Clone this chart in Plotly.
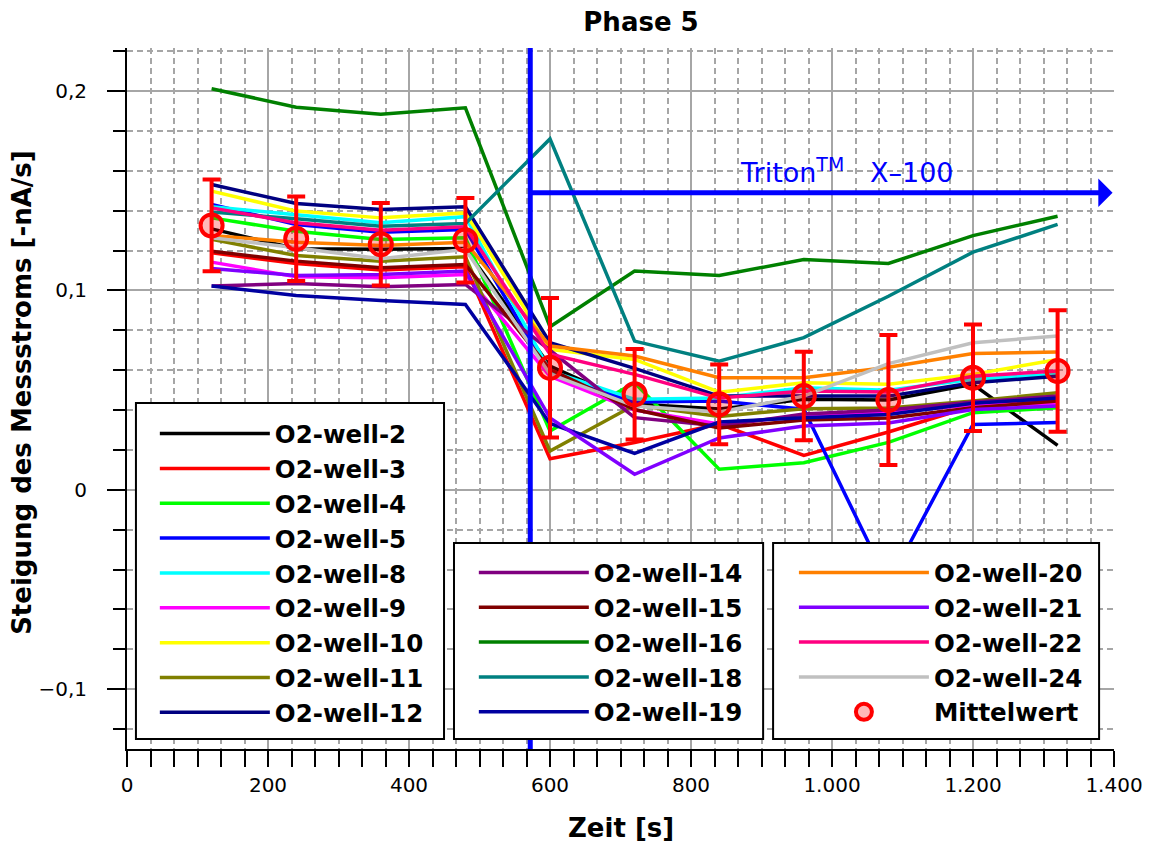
import plotly.graph_objects as go

# Zeitpunkte der Messung [s]
zeit = [120, 240, 360, 480, 600, 720, 840, 960, 1080, 1200, 1320]

# Steigung des Messstroms je Well [-nA/s]
well_2 = [0.1309, 0.1209, 0.1206, 0.1210, 0.0620, 0.0430, 0.0405, 0.0454, 0.0450, 0.0529, 0.0223]
well_3 = [0.1189, 0.1135, 0.1102, 0.1119, 0.0156, 0.0237, 0.0330, 0.0173, 0.0290, 0.0420, 0.0450]
well_4 = [0.1364, 0.1297, 0.1256, 0.1264, 0.0295, 0.0537, 0.0103, 0.0136, 0.0238, 0.0387, 0.0412]
well_5 = [0.1431, 0.1331, 0.1292, 0.1306, 0.0580, 0.0440, 0.0445, 0.0404, -0.0470, 0.0328, 0.0337]
well_8 = [0.1420, 0.1381, 0.1340, 0.1370, 0.0596, 0.0454, 0.0460, 0.0512, 0.0500, 0.0555, 0.0580]
well_9 = [0.1142, 0.1069, 0.1064, 0.1080, 0.0570, 0.0400, 0.0330, 0.0370, 0.0390, 0.0425, 0.0430]
well_10 = [0.1498, 0.1398, 0.1364, 0.1389, 0.0704, 0.0654, 0.0490, 0.0537, 0.0529, 0.0579, 0.0654]
well_11 = [0.1256, 0.1175, 0.1147, 0.1169, 0.0195, 0.0425, 0.0368, 0.0407, 0.0410, 0.0445, 0.0487]
well_12 = [0.1531, 0.1436, 0.1406, 0.1420, 0.0738, 0.0609, 0.0470, 0.0470, 0.0470, 0.0537, 0.0570]
well_14 = [0.1022, 0.1035, 0.1019, 0.1030, 0.0700, 0.0362, 0.0320, 0.0380, 0.0400, 0.0440, 0.0470]
well_15 = [0.1197, 0.1147, 0.1114, 0.1130, 0.0604, 0.0403, 0.0310, 0.0350, 0.0360, 0.0412, 0.0445]
well_16 = [0.2012, 0.1919, 0.1884, 0.1916, 0.0818, 0.1097, 0.1075, 0.1155, 0.1135, 0.1275, 0.1372]
well_18 = [0.1393, 0.1360, 0.1322, 0.1336, 0.1760, 0.0746, 0.0645, 0.0763, 0.0971, 0.1192, 0.1331]
well_19 = [0.1022, 0.0975, 0.0950, 0.0930, 0.0333, 0.0183, 0.0340, 0.0362, 0.0378, 0.0434, 0.0460]
well_20 = [0.1276, 0.1242, 0.1226, 0.1242, 0.0721, 0.0671, 0.0562, 0.0562, 0.0615, 0.0684, 0.0691]
well_21 = [0.1110, 0.1075, 0.1080, 0.1097, 0.0360, 0.0078, 0.0260, 0.0320, 0.0335, 0.0403, 0.0420]
well_22 = [0.1414, 0.1339, 0.1302, 0.1319, 0.0680, 0.0579, 0.0460, 0.0495, 0.0490, 0.0570, 0.0596]
well_24 = [0.1264, 0.1214, 0.1159, 0.1206, 0.0580, 0.0420, 0.0390, 0.0470, 0.0633, 0.0738, 0.0771]

# Mittelwert und Standardabweichung über alle Wells
mittelwert = [0.1326, 0.1259, 0.1232, 0.1252, 0.0612, 0.0479, 0.0429, 0.0470, 0.0450, 0.0562, 0.0596]
stdabw = [0.0230, 0.0212, 0.0207, 0.0212, 0.0350, 0.0227, 0.0200, 0.0222, 0.0326, 0.0267, 0.0305]

# Zugabezeitpunkt Triton X-100 [s]
triton_start = 572
triton_pfeil_y = 0.149

FONT = "DejaVu Sans"

serien = [
    ("O2-well-2", well_2, "#000000", "legend"),
    ("O2-well-3", well_3, "#FF0000", "legend"),
    ("O2-well-4", well_4, "#00FF00", "legend"),
    ("O2-well-5", well_5, "#0000FF", "legend"),
    ("O2-well-8", well_8, "#00FFFF", "legend"),
    ("O2-well-9", well_9, "#FF00FF", "legend"),
    ("O2-well-10", well_10, "#FFFF00", "legend"),
    ("O2-well-11", well_11, "#808000", "legend"),
    ("O2-well-12", well_12, "#000080", "legend"),
    ("O2-well-14", well_14, "#800080", "legend2"),
    ("O2-well-15", well_15, "#800000", "legend2"),
    ("O2-well-16", well_16, "#008000", "legend2"),
    ("O2-well-18", well_18, "#008080", "legend2"),
    ("O2-well-19", well_19, "#0000A0", "legend2"),
    ("O2-well-20", well_20, "#FF8000", "legend3"),
    ("O2-well-21", well_21, "#8000FF", "legend3"),
    ("O2-well-22", well_22, "#FF0080", "legend3"),
    ("O2-well-24", well_24, "#C0C0C0", "legend3"),
]

fig = go.Figure()

for name, werte, farbe, leg in serien:
    fig.add_trace(go.Scatter(
        x=zeit, y=werte, mode="lines", name=name,
        line=dict(color=farbe, width=3.5),
        legend=leg,
    ))

fig.add_trace(go.Scatter(
    x=zeit, y=mittelwert, mode="markers", name="Mittelwert",
    marker=dict(symbol="circle", size=22, color="rgba(255,0,0,0.28)",
                line=dict(color="#FF0000", width=4)),
    error_y=dict(type="data", array=stdabw, color="#FF0000", thickness=4, width=9),
    legend="legend3",
))

grid_col = "#A6A6A6"
tickfont = dict(family=FONT, size=20, color="black")

fig.update_xaxes(
    range=[0, 1400], tick0=0, dtick=200,
    ticks="outside", ticklen=16, tickwidth=2, tickcolor="black",
    showline=True, linecolor="black", linewidth=2,
    showgrid=True, gridcolor=grid_col, gridwidth=2,
    zeroline=False, separatethousands=True,
    tickfont=tickfont, ticklabelstandoff=1,
    minor=dict(dtick=200 / 6, tick0=0, ticks="outside", ticklen=16, tickwidth=1.5,
               tickcolor="black", showgrid=True, gridcolor=grid_col,
               gridwidth=1.5, griddash="6px,4px"),
)
fig.update_yaxes(
    range=[-0.13, 0.2216], tick0=0, dtick=0.1,
    ticks="outside", ticklen=18, tickwidth=2, tickcolor="black",
    showline=True, linecolor="black", linewidth=2,
    showgrid=True, gridcolor=grid_col, gridwidth=2,
    zeroline=False, tickfont=tickfont, ticklabelstandoff=16,
    minor=dict(dtick=0.02, tick0=0, ticks="outside", ticklen=12, tickwidth=1.5,
               tickcolor="black", showgrid=True, gridcolor=grid_col,
               gridwidth=1.5, griddash="6px,4px"),
)

legfont = dict(family=FONT, size=24.5, color="black", weight="bold")
legbase = dict(xanchor="left", yanchor="top", bgcolor="rgba(0,0,0,0)",
               borderwidth=0, font=legfont, traceorder="normal")

shapes = [
    # Zugabe Triton X-100
    dict(type="line", xref="x", yref="paper", x0=triton_start, x1=triton_start,
         y0=0, y1=1, line=dict(color="#0000FF", width=5), layer="above"),
]
# Legendenrahmen
for x0, x1, y1 in [(0.00906, 0.3212, 0.4936), (0.3313, 0.6445, 0.2939), (0.6546, 0.9849, 0.2939)]:
    shapes.append(dict(type="rect", xref="paper", yref="paper", x0=x0, x1=x1,
                       y0=0.0143, y1=y1, fillcolor="white",
                       line=dict(color="black", width=2), layer="above"))

fig.update_layout(
    width=1155, height=845,
    margin=dict(l=127, r=35, t=48, b=96),
    paper_bgcolor="white", plot_bgcolor="white",
    separators=",.",
    showlegend=True,
    title=dict(text="Phase 5", x=641 / 1155, xref="container", xanchor="center",
               y=1 - 22 / 845, yref="container", yanchor="middle",
               font=dict(family=FONT, size=26, color="black", weight="bold")),
    legend=dict(x=0.0282, y=0.482, itemwidth=110, **legbase),
    legend2=dict(x=0.3514, y=0.2839, itemwidth=110, **legbase),
    legend3=dict(x=0.6757, y=0.2839, itemwidth=130, **legbase),
    shapes=shapes,
    annotations=[
        dict(text="Steigung des Messstroms [-nA/s]", xref="paper", yref="paper",
             x=-0.1057, y=0.509, textangle=-90, showarrow=False,
             xanchor="center", yanchor="middle",
             font=dict(family=FONT, size=26, color="black", weight="bold")),
        dict(text="Zeit [s]", xref="paper", yref="paper", x=0.5, y=-0.1127,
             showarrow=False, xanchor="center", yanchor="middle",
             font=dict(family=FONT, size=26, color="black", weight="bold")),
        dict(text="Triton<sup>TM</sup>\u00a0\u00a0\u00a0X\u2013100", xref="x", yref="y",
             x=866, y=0.1505, xanchor="left", yanchor="bottom", showarrow=False,
             font=dict(family=FONT, size=27, color="#0000FF")),
        dict(text="", xref="x", yref="y", x=1398, y=triton_pfeil_y,
             axref="x", ayref="y", ax=triton_start, ay=triton_pfeil_y,
             showarrow=True, arrowhead=1, arrowsize=0.95, arrowwidth=5,
             arrowcolor="#0000FF"),
    ],
)

fig.write_html("out.html")
